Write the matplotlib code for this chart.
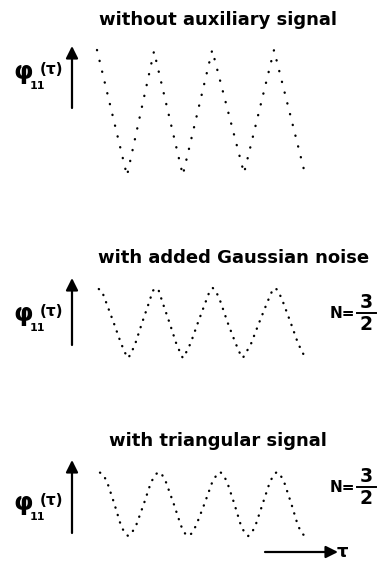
import matplotlib.pyplot as plt

W, H = 379, 564

# autocorrelation phi_11(tau), tau in periods of the test signal, phi normalised to +-1
tau_plain = [0.00, 0.50, 0.95, 1.43, 1.92, 2.45, 2.95, 3.48]
phi_plain = [1.00, -0.98, 0.98, -0.97, 1.00, -0.94, 1.00, -1.00]

tau_noise = [0.03, 0.08, 0.15, 0.28, 0.40, 0.47, 0.52,
             0.57, 0.64, 0.75, 0.87, 0.93, 0.98,
             1.03, 1.09, 1.21, 1.32, 1.39, 1.43,
             1.48, 1.56, 1.68, 1.81, 1.88, 1.93,
             1.98, 2.06, 2.18, 2.31, 2.38, 2.43,
             2.48, 2.57, 2.70, 2.84, 2.92, 2.97,
             3.02, 3.10, 3.23, 3.35, 3.43, 3.48]
phi_noise = [0.97, 0.92, 0.60, 0.00, -0.58, -0.86, -1.00,
             -0.86, -0.58, 0.00, 0.60, 0.92, 1.00,
             0.92, 0.60, 0.00, -0.58, -0.86, -1.00,
             -0.86, -0.58, 0.00, 0.60, 0.92, 1.00,
             0.92, 0.60, 0.00, -0.58, -0.86, -1.00,
             -0.86, -0.58, 0.00, 0.60, 0.92, 1.00,
             0.92, 0.60, 0.00, -0.58, -0.86, -1.00]

tau_tri = [0.05, 0.10, 0.17, 0.29, 0.40, 0.47, 0.52,
           0.57, 0.65, 0.78, 0.90, 0.98, 1.03,
           1.08, 1.15, 1.28, 1.40, 1.47, 1.52,
           1.57, 1.65, 1.79, 1.92, 2.00, 2.05,
           2.10, 2.17, 2.29, 2.40, 2.47, 2.52,
           2.57, 2.64, 2.76, 2.88, 2.95, 3.00,
           3.05, 3.12, 3.24, 3.35, 3.42, 3.47]
phi_tri = [0.98, 0.93, 0.68, 0.00, -0.68, -0.93, -1.00,
           -0.93, -0.68, 0.00, 0.68, 0.93, 1.00,
           0.93, 0.68, 0.00, -0.68, -0.93, -1.00,
           -0.93, -0.68, 0.00, 0.68, 0.93, 1.00,
           0.93, 0.68, 0.00, -0.68, -0.93, -1.00,
           -0.93, -0.68, 0.00, 0.68, 0.93, 1.00,
           0.93, 0.68, 0.00, -0.68, -0.93, -1.00]

titles = ['without auxiliary signal', 'with added Gaussian noise', 'with triangular signal']
n_ratio = [None, ('3', '2'), ('3', '2')]

# layout in pixels from the top-left corner
panels = [
    dict(tau=tau_plain, phi=phi_plain, top=50, bottom=177, gap=4.6,
         title_x=218, title_y=25, arrow=(46, 108), label_y=79, n_y=None),
    dict(tau=tau_noise, phi=phi_noise, top=288, bottom=358, gap=3.2,
         title_x=234, title_y=263, arrow=(278, 345), label_y=321, n_y=313),
    dict(tau=tau_tri, phi=phi_tri, top=472, bottom=536, gap=3.2,
         title_x=218, title_y=446, arrow=(460, 533), label_y=510, n_y=487),
]

fig = plt.figure(figsize=(W / 100, H / 100), dpi=100)
fig.patch.set_facecolor('white')

over = fig.add_axes([0, 0, 1, 1])
over.set_xlim(0, W)
over.set_ylim(H, 0)
over.axis('off')

txt = dict(color='black', fontweight='bold', family='DejaVu Sans')
arrow_kw = dict(arrowstyle='-|>', color='black', lw=1.6, mutation_scale=18,
                shrinkA=0, shrinkB=0)

for i, p in enumerate(panels):
    ax = fig.add_axes([97 / W, 1 - p['bottom'] / H, 210 / W, (p['bottom'] - p['top']) / H])
    ax.set_xlim(0, 3.5)
    ax.set_ylim(-1, 1)
    ax.axis('off')
    ax.plot(p['tau'], p['phi'], color='black', lw=1.7,
            linestyle=(0, (0.1, p['gap'])), dash_capstyle='round', clip_on=False)

    over.text(p['title_x'], p['title_y'], titles[i], ha='center', va='baseline',
              fontsize=13, **txt)

    # ordinate arrow with phi_11(tau)
    a_top, a_bot = p['arrow']
    over.annotate('', xy=(72, a_top), xytext=(72, a_bot), arrowprops=arrow_kw)
    ly = p['label_y']
    over.text(13, ly, '\u03c6', fontsize=18, va='baseline', **txt)
    over.text(30, ly + 10, '11', fontsize=8, va='baseline', **txt)
    over.text(40, ly - 5, '(\u03c4)', fontsize=11, va='baseline', **txt)

    if n_ratio[i] is not None:
        num, den = n_ratio[i]
        ny = p['n_y']
        over.text(330, ny, 'N=', fontsize=11, va='center', **txt)
        over.text(366, ny - 1, num, fontsize=13.5, ha='center', va='bottom', **txt)
        over.text(366, ny + 2, den, fontsize=13.5, ha='center', va='top', **txt)
        over.plot([357, 376], [ny, ny], color='black', lw=1.4)

# abscissa arrow tau
over.annotate('', xy=(338, 552), xytext=(265, 552), arrowprops=arrow_kw)
over.text(337, 557, '\u03c4', fontsize=13, va='baseline', **txt)

fig.savefig('out.png', dpi=100, facecolor='white')
